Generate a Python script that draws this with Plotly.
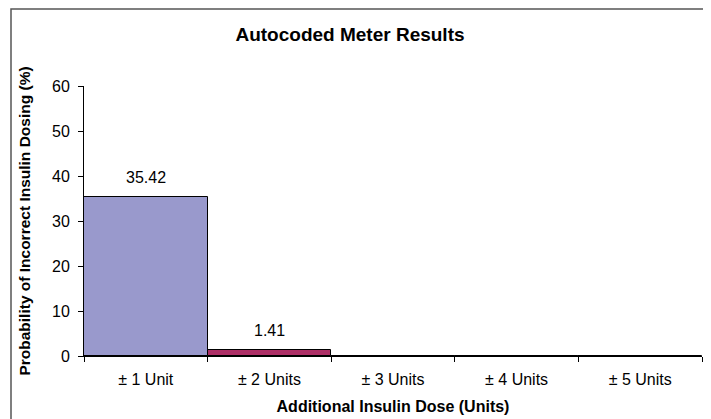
import plotly.graph_objects as go

categories = ["± 1 Unit", "± 2 Units", "± 3 Units", "± 4 Units", "± 5 Units"]
values = [35.42, 1.41, 0, 0, 0]
labels = ["35.42", "1.41", "", "", ""]
colors = ["#9999CC", "#AD2F66", "#9999CC", "#9999CC", "#9999CC"]

FONT = "Liberation Sans, Arial, sans-serif"

fig = go.Figure()
fig.add_trace(go.Bar(
    x=categories, y=values,
    marker=dict(color=colors, line=dict(color="black", width=1)),
    width=1.0, hoverinfo="x+y",
))

for c, v, t in zip(categories, values, labels):
    if t:
        fig.add_annotation(x=c, y=v, text=t, showarrow=False, yanchor="bottom",
                           yshift=9, font=dict(family=FONT, size=16, color="black"))

# page body has an 8px margin; figure is sized to fit the 711x419 window
W, H = 703, 411
L, R, T, B = 76, 9, 78, 63
pw, ph = W - L - R, H - T - B
fig.add_shape(type="rect", xref="paper", yref="paper",
              x0=(3 - L) / pw, x1=(696 - L) / pw,
              y0=(H - B - 430) / ph, y1=(H - B - 1) / ph,
              line=dict(color="#555555", width=1.5), fillcolor="rgba(0,0,0,0)", layer="below")

fig.update_layout(
    width=W, height=H,
    margin=dict(l=L, r=R, t=T, b=B, autoexpand=False),
    paper_bgcolor="white", plot_bgcolor="white",
    showlegend=False, bargap=0,
    font=dict(family=FONT, size=16, color="black"),
    title=dict(text="<b>Autocoded Meter Results</b>", x=342 / W, xanchor="center",
               y=1 - 26 / H, yanchor="middle", font=dict(family=FONT, size=19)),
    xaxis=dict(
        type="category", range=[-0.5, 4.5], showline=True, linecolor="black", linewidth=1,
        ticks="outside", tickson="boundaries", ticklen=5, tickcolor="black",
        showgrid=False, tickfont=dict(size=16), ticklabelstandoff=9,
        title=dict(text="<b>Additional Insulin Dose (Units)</b>", standoff=13, font=dict(size=16)),
    ),
    yaxis=dict(
        range=[0, 60], dtick=10, showline=True, linecolor="black", linewidth=1,
        ticks="outside", ticklen=5, tickcolor="black", showgrid=False, zeroline=False,
        tickfont=dict(size=16), ticklabelstandoff=5,
        title=dict(text="<b>Probability of Incorrect Insulin Dosing (%)</b>", standoff=17,
                   font=dict(size=15.5)),
    ),
)

fig.write_html("out.html")
